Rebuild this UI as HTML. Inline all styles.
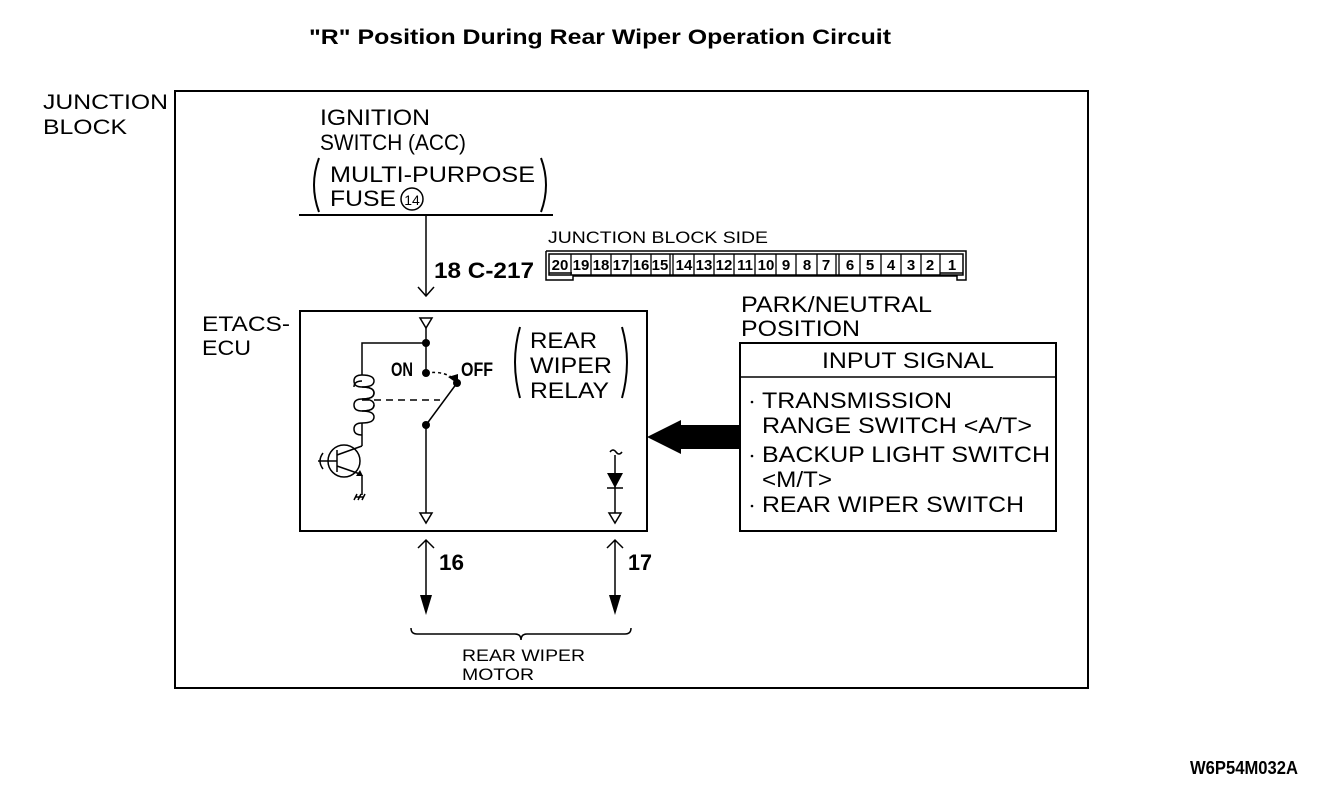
<!DOCTYPE html>
<html><head><meta charset="utf-8"><style>
html,body{margin:0;padding:0;background:#fff;}
svg{display:block;}
text{font-family:"Liberation Sans",sans-serif;fill:#000;}
.c{font-family:"Liberation Sans Narrow","Liberation Sans",sans-serif;font-weight:bold;}
</style></head><body>
<svg width="1344" height="790" viewBox="0 0 1344 790" xmlns="http://www.w3.org/2000/svg">
<text x="309" y="44" font-size="21" font-weight="bold" textLength="582" lengthAdjust="spacingAndGlyphs">"R" Position During Rear Wiper Operation Circuit</text>
<rect x="175" y="91" width="913" height="597" fill="none" stroke="#000" stroke-width="2"/>
<text x="43" y="109" font-size="21" textLength="125" lengthAdjust="spacingAndGlyphs">JUNCTION</text>
<text x="43" y="134" font-size="21" textLength="84" lengthAdjust="spacingAndGlyphs">BLOCK</text>
<g font-size="22">
<text x="320" y="125" textLength="110" lengthAdjust="spacingAndGlyphs">IGNITION</text>
<text x="320" y="150" textLength="146" lengthAdjust="spacingAndGlyphs">SWITCH (ACC)</text>
<text x="330" y="182" textLength="205" lengthAdjust="spacingAndGlyphs">MULTI-PURPOSE</text>
<text x="330" y="206" textLength="66" lengthAdjust="spacingAndGlyphs">FUSE</text>
</g>
<path d="M319 158 Q309 185 319 212 M541 158 Q551 185 541 212" fill="none" stroke="#000" stroke-width="2"/>
<circle cx="412" cy="199" r="11" fill="none" stroke="#000" stroke-width="1.5"/>
<text x="412" y="205" font-size="14" text-anchor="middle">14</text>
<line x1="299" y1="215" x2="553" y2="215" stroke="#000" stroke-width="2"/>
<line x1="426" y1="215" x2="426" y2="296" stroke="#000" stroke-width="1.5"/>
<path d="M418 287 L426 296 L434 287" fill="none" stroke="#000" stroke-width="1.5"/>
<text x="434" y="278" font-size="22" class="c" textLength="100" lengthAdjust="spacingAndGlyphs">18 C-217</text>
<text x="548" y="243" font-size="17" textLength="220" lengthAdjust="spacingAndGlyphs">JUNCTION BLOCK SIDE</text>
<g stroke="#000" fill="none" stroke-width="1.5">
<path d="M546 251 H966 V280 H957 V276 H940 M546 251 V280 H573 V276 H940"/>
<rect x="549" y="254" width="414" height="21"/>
<path d="M549 273 H572 M940 273 H963"/>
</g>
<g stroke="#000" stroke-width="1.3">
<line x1="571" y1="254" x2="571" y2="275"/><line x1="591" y1="254" x2="591" y2="275"/><line x1="611" y1="254" x2="611" y2="275"/><line x1="631" y1="254" x2="631" y2="275"/><line x1="651" y1="254" x2="651" y2="275"/><line x1="670" y1="254" x2="670" y2="275"/><line x1="673" y1="254" x2="673" y2="275"/>
<line x1="694" y1="254" x2="694" y2="275"/><line x1="714" y1="254" x2="714" y2="275"/><line x1="734" y1="254" x2="734" y2="275"/><line x1="755" y1="254" x2="755" y2="275"/><line x1="776" y1="254" x2="776" y2="275"/><line x1="796" y1="254" x2="796" y2="275"/><line x1="817" y1="254" x2="817" y2="275"/><line x1="836" y1="254" x2="836" y2="275"/><line x1="839" y1="254" x2="839" y2="275"/>
<line x1="860" y1="254" x2="860" y2="275"/><line x1="881" y1="254" x2="881" y2="275"/><line x1="901" y1="254" x2="901" y2="275"/><line x1="921" y1="254" x2="921" y2="275"/><line x1="940" y1="254" x2="940" y2="275"/>
</g>
<g font-size="15" class="c" text-anchor="middle">
<text x="560" y="270">20</text><text x="581" y="270">19</text><text x="601" y="270">18</text><text x="621" y="270">17</text><text x="641" y="270">16</text><text x="660" y="270">15</text>
<text x="684" y="270">14</text><text x="704" y="270">13</text><text x="724" y="270">12</text><text x="745" y="270">11</text><text x="766" y="270">10</text><text x="786" y="270">9</text><text x="807" y="270">8</text><text x="826" y="270">7</text>
<text x="850" y="270">6</text><text x="870" y="270">5</text><text x="891" y="270">4</text><text x="911" y="270">3</text><text x="930" y="270">2</text><text x="952" y="270">1</text>
</g>
<text x="202" y="331" font-size="21" textLength="88" lengthAdjust="spacingAndGlyphs">ETACS-</text>
<text x="202" y="355" font-size="21" textLength="49" lengthAdjust="spacingAndGlyphs">ECU</text>
<rect x="300" y="311" width="347" height="220" fill="none" stroke="#000" stroke-width="2"/>
<g stroke="#000" fill="none" stroke-width="1.5">
<path d="M420 318 H432 L426 328 Z"/>
<path d="M426 328 V373 M426 425 V513"/>
<path d="M420 513 H432 L426 523 Z"/>
<path d="M609 513 H621 L615 523 Z"/>
<path d="M362 375 V343 H426"/>
<path d="M362 375 q-8 0 -8 6 q0 6 8 6 q12 0 12 6 q0 6 -12 6 q-8 0 -8 6 q0 6 8 6 q12 0 12 6 q0 6 -12 6 q-8 0 -8 6 q0 6 8 6 M362 381 q-8 0 -8 6 M362 411 q12 0 12 -6 q0 -6 -12 -6"/>
<path d="M362 387 q12 0 12 -6 q0 -6 -12 -6 M362 399 q12 0 12 -6 q0 -6 -12 -6 M362 411 q12 0 12 -6"/>
<path d="M362 423 V446 M362 475 V495"/>
<circle cx="344" cy="461" r="16"/>
<path d="M337 450 V472 M318 461 H337 M337 455 L362 446 M337 466 L360 474"/>
<path d="M323 453 q-6 8 0 16"/>
<path d="M356 497 L364 497 M357 494 L354 500 M361 494 L358 500 M365 494 L362 500"/>
<path d="M426 425 L457 383"/>
<path d="M362 400 H440" stroke-dasharray="7,5"/>
<path d="M426 373 Q448 370 457 383" stroke-dasharray="3,3"/>
<path d="M615 455 V513"/>
<path d="M610 452 q3 -4 6 0 q3 4 6 0"/>
<path d="M607 488 H623"/>
</g>
<path d="M607 473 H623 L615 488 Z" fill="#000"/>
<path d="M448 377 l10 -3 l0 10 z" fill="#000"/>
<path d="M360 470 l3 6 l-7 0 z" fill="#000"/>
<circle cx="426" cy="343" r="4"/><circle cx="426" cy="373" r="4"/><circle cx="457" cy="383" r="4"/><circle cx="426" cy="425" r="4"/>
<text x="391" y="376" font-size="19" class="c" textLength="22" lengthAdjust="spacingAndGlyphs">ON</text>
<text x="461" y="376" font-size="19" class="c" textLength="32" lengthAdjust="spacingAndGlyphs">OFF</text>
<g font-size="22"><text x="530" y="348" textLength="67" lengthAdjust="spacingAndGlyphs">REAR</text><text x="530" y="373" textLength="82" lengthAdjust="spacingAndGlyphs">WIPER</text><text x="530" y="398" textLength="79" lengthAdjust="spacingAndGlyphs">RELAY</text></g>
<path d="M520 327 Q510 362 520 398 M622 327 Q632 362 622 398" fill="none" stroke="#000" stroke-width="2"/>
<text x="741" y="312" font-size="22" textLength="191" lengthAdjust="spacingAndGlyphs">PARK/NEUTRAL</text>
<text x="741" y="336" font-size="22" textLength="119" lengthAdjust="spacingAndGlyphs">POSITION</text>
<rect x="740" y="343" width="316" height="188" fill="none" stroke="#000" stroke-width="2"/>
<line x1="740" y1="377" x2="1056" y2="377" stroke="#000" stroke-width="1.5"/>
<text x="822" y="368" font-size="22" textLength="172" lengthAdjust="spacingAndGlyphs">INPUT SIGNAL</text>
<g font-size="22">
<text x="762" y="408" textLength="190" lengthAdjust="spacingAndGlyphs">TRANSMISSION</text>
<text x="762" y="433" textLength="270" lengthAdjust="spacingAndGlyphs">RANGE SWITCH &lt;A/T&gt;</text>
<text x="762" y="462" textLength="288" lengthAdjust="spacingAndGlyphs">BACKUP LIGHT SWITCH</text>
<text x="762" y="487" textLength="70" lengthAdjust="spacingAndGlyphs">&lt;M/T&gt;</text>
<text x="762" y="512" textLength="262" lengthAdjust="spacingAndGlyphs">REAR WIPER SWITCH</text>
</g>
<circle cx="752" cy="402" r="1.3"/><circle cx="752" cy="456" r="1.3"/><circle cx="752" cy="506" r="1.3"/>
<path d="M740 425 H681 V420 L647 437 L681 454 V449 H740 Z" fill="#000"/>
<g stroke="#000" fill="none" stroke-width="1.5">
<path d="M426 540 V600 M418 548 L426 540 L434 548"/>
<path d="M615 540 V600 M607 548 L615 540 L623 548"/>
<path d="M411 628 q0 6 6 6 H515 q6 0 6 6 q0 -6 6 -6 H625 q6 0 6 -6"/>
</g>
<path d="M420 595 H432 L426 615 Z" fill="#000"/>
<path d="M609 595 H621 L615 615 Z" fill="#000"/>
<text x="439" y="570" font-size="22" class="c" textLength="25" lengthAdjust="spacingAndGlyphs">16</text>
<text x="628" y="570" font-size="22" class="c" textLength="24" lengthAdjust="spacingAndGlyphs">17</text>
<text x="462" y="661" font-size="17" textLength="123" lengthAdjust="spacingAndGlyphs">REAR WIPER</text>
<text x="462" y="680" font-size="17" textLength="72" lengthAdjust="spacingAndGlyphs">MOTOR</text>
<text x="1190" y="774" font-size="18" class="c" textLength="108" lengthAdjust="spacingAndGlyphs">W6P54M032A</text>
</svg>
</body></html>
